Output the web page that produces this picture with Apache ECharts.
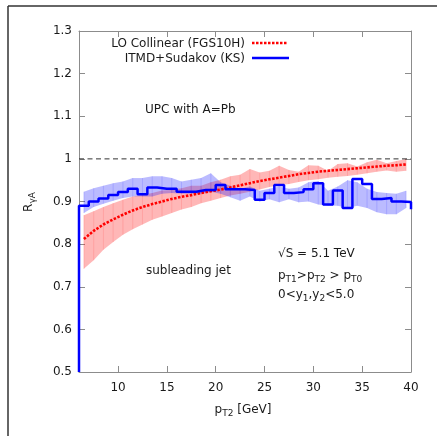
<!DOCTYPE html>
<html>
<head>
<meta charset="utf-8">
<script src="https://cdn.jsdelivr.net/npm/echarts@6/dist/echarts.min.js"></script>
<style>
  html, body { margin: 0; padding: 0; background: #fff; }
  #chart { width: 437px; height: 436px; }
</style>
</head>
<body>
<div id="chart"></div>
<script>
// axis ranges and ticks
const xMin = 6, xMax = 40, yMin = 0.5, yMax = 1.3;
const xTicks = [10, 15, 20, 25, 30, 35, 40];
const xTicksInner = [10, 15, 20, 25, 30, 35];
const refLevel = 1;

// ITMD+Sudakov (KS) histogram: left edges of 1 GeV bins and bin values
const ksBinLow = [6, 7, 8, 9, 10, 11, 12, 13, 14, 15, 16, 17, 18, 19, 20, 21, 22,
  23, 24, 25, 26, 27, 28, 29, 30, 31, 32, 33, 34, 35, 36, 37, 38, 39];
const ksVals = [0.890, 0.900, 0.907, 0.915, 0.922, 0.930, 0.917, 0.933, 0.930, 0.930,
  0.923, 0.923, 0.927, 0.927, 0.939, 0.929, 0.929, 0.927, 0.904, 0.920, 0.939, 0.920,
  0.922, 0.929, 0.943, 0.893, 0.926, 0.885, 0.953, 0.941, 0.906, 0.908, 0.900, 0.899];
const ksEndDrop = 0.882;

// bin centres shared by the curve and both bands
const binCenter = [6.5, 7.5, 8.5, 9.5, 10.5, 11.5, 12.5, 13.5, 14.5, 15.5, 16.5, 17.5,
  18.5, 19.5, 20.5, 21.5, 22.5, 23.5, 24.5, 25.5, 26.5, 27.5, 28.5, 29.5, 30.5, 31.5,
  32.5, 33.5, 34.5, 35.5, 36.5, 37.5, 38.5, 39.5];

// LO Collinear (FGS10H)
const loVals = [0.812, 0.831, 0.846, 0.858, 0.869, 0.879, 0.887, 0.894, 0.900, 0.906,
  0.911, 0.915, 0.920, 0.924, 0.928, 0.933, 0.938, 0.943, 0.948, 0.952, 0.956, 0.960,
  0.964, 0.967, 0.970, 0.972, 0.974, 0.976, 0.978, 0.980, 0.982, 0.984, 0.985, 0.987];
const loBandLow = [0.742, 0.762, 0.787, 0.805, 0.822, 0.835, 0.846, 0.857, 0.865, 0.873,
  0.881, 0.887, 0.896, 0.902, 0.908, 0.914, 0.918, 0.923, 0.928, 0.934, 0.938, 0.941,
  0.946, 0.950, 0.952, 0.956, 0.958, 0.960, 0.963, 0.966, 0.970, 0.973, 0.970, 0.972];
const loBandHigh = [0.868, 0.877, 0.887, 0.896, 0.904, 0.912, 0.916, 0.920, 0.926, 0.927,
  0.931, 0.937, 0.937, 0.945, 0.951, 0.959, 0.963, 0.976, 0.968, 0.972, 0.984, 0.974,
  0.970, 0.985, 0.984, 0.972, 0.988, 0.990, 0.982, 0.992, 0.998, 0.990, 0.995, 1.000];

// KS uncertainty band
const ksBandLow = [0.873, 0.887, 0.895, 0.902, 0.908, 0.912, 0.912, 0.912, 0.918, 0.920,
  0.918, 0.918, 0.918, 0.923, 0.918, 0.910, 0.902, 0.912, 0.900, 0.905, 0.898, 0.905,
  0.898, 0.900, 0.893, 0.890, 0.890, 0.885, 0.890, 0.885, 0.875, 0.870, 0.870, 0.885];
const ksBandHigh = [0.923, 0.931, 0.937, 0.943, 0.947, 0.955, 0.955, 0.959, 0.959, 0.955,
  0.947, 0.951, 0.955, 0.966, 0.945, 0.937, 0.930, 0.935, 0.925, 0.930, 0.935, 0.930,
  0.933, 0.945, 0.948, 0.925, 0.935, 0.950, 0.945, 0.930, 0.922, 0.920, 0.918, 0.925];

const FONT = 'DejaVu Sans';
const TXT = '#1a1a1a';
const AXIS = '#8c8c8c';

// step line points: start at the bottom, one point per bin edge, then the drop at the end
function ksStepData() {
  const pts = [[ksBinLow[0], yMin]];
  for (let i = 0; i < ksBinLow.length; i++) pts.push([ksBinLow[i], ksVals[i]]);
  pts.push([xMax, ksVals[ksVals.length - 1]]);
  pts.push([xMax, ksEndDrop]);
  return pts;
}

function bandData(lo, hi) {
  const out = [];
  for (let i = 0; i < binCenter.length - 1; i++) {
    out.push([binCenter[i], lo[i], hi[i], binCenter[i + 1], lo[i + 1], hi[i + 1]]);
  }
  return out;
}

function bandRender(fill, seam) {
  return function (params, api) {
    const a = api.coord([api.value(0), api.value(2)]);
    const b = api.coord([api.value(3), api.value(5)]);
    const c = api.coord([api.value(3), api.value(4)]);
    const d = api.coord([api.value(0), api.value(1)]);
    const children = [
      { type: 'polygon', shape: { points: [a, b, c, d] }, style: { fill: fill }, silent: true },
      { type: 'line', shape: { x1: d[0], y1: d[1], x2: a[0], y2: a[1] }, style: { stroke: seam, lineWidth: 1 }, silent: true }
    ];
    if (params.dataIndex === params.dataInsideLength - 1) {
      children.push({ type: 'line', shape: { x1: c[0], y1: c[1], x2: b[0], y2: b[1] }, style: { stroke: seam, lineWidth: 1 }, silent: true });
    }
    return { type: 'group', children: children };
  };
}

const chart = echarts.init(document.getElementById('chart'), null, { renderer: 'canvas' });

const subStyle = { fontSize: 9, fontFamily: FONT, fill: TXT, verticalAlign: 'bottom', padding: [0, 0, -2, 0] };

chart.setOption({
  animation: false,
  backgroundColor: '#fff',
  grid: { left: 79, top: 31, width: 332, height: 341 },
  xAxis: [
    {
      type: 'value', min: xMin, max: xMax, position: 'bottom',
      axisLine: { lineStyle: { color: AXIS, width: 1 } },
      axisTick: { inside: true, length: 6, lineStyle: { color: AXIS }, customValues: xTicksInner },
      axisLabel: { customValues: xTicks, color: TXT, fontFamily: FONT, fontSize: 12, margin: 10 },
      splitLine: { show: false }
    },
    {
      type: 'value', min: xMin, max: xMax, position: 'top',
      axisLine: { lineStyle: { color: AXIS, width: 1 } },
      axisTick: { inside: true, length: 6, lineStyle: { color: AXIS }, customValues: xTicksInner },
      axisLabel: { show: false },
      splitLine: { show: false }
    }
  ],
  yAxis: [
    {
      type: 'value', min: yMin, max: yMax, interval: 0.1, position: 'left',
      axisLine: { show: true, lineStyle: { color: AXIS, width: 1 } },
      axisTick: { show: true, inside: true, length: 6, lineStyle: { color: AXIS } },
      axisLabel: { color: TXT, fontFamily: FONT, fontSize: 12, margin: 7 },
      splitLine: { show: false }
    },
    {
      type: 'value', min: yMin, max: yMax, interval: 0.1, position: 'right',
      axisLine: { show: true, lineStyle: { color: AXIS, width: 1 } },
      axisTick: { show: true, inside: true, length: 6, lineStyle: { color: AXIS } },
      axisLabel: { show: false },
      splitLine: { show: false }
    }
  ],
  series: [
    {
      type: 'custom', name: 'LO band', renderItem: bandRender('rgba(255,30,30,0.32)', 'rgba(255,60,60,0.2)'),
      data: bandData(loBandLow, loBandHigh), encode: { x: [0, 3], y: [1, 2, 4, 5] }, z: 1, silent: true
    },
    {
      type: 'custom', name: 'KS band', renderItem: bandRender('rgba(30,30,255,0.3)', 'rgba(60,60,255,0.2)'),
      data: bandData(ksBandLow, ksBandHigh), encode: { x: [0, 3], y: [1, 2, 4, 5] }, z: 2, silent: true
    },
    {
      type: 'line', name: 'ref', data: [[xMin, refLevel], [xMax, refLevel]], symbol: 'none', z: 3,
      lineStyle: { color: '#333', width: 1, type: [5, 3.5] }, silent: true
    },
    {
      type: 'line', name: 'LO Collinear (FGS10H)', data: binCenter.map((x, i) => [x, loVals[i]]),
      symbol: 'none', z: 4, lineStyle: { color: '#ff0000', width: 2.6, type: [2.5, 1.5] }, silent: true
    },
    {
      type: 'line', name: 'ITMD+Sudakov (KS)', data: ksStepData(), step: 'end',
      symbol: 'none', z: 5, lineStyle: { color: '#0000ff', width: 2.5 }, silent: true
    }
  ],
  graphic: [
    // outer frame (top and left only)
    { type: 'line', shape: { x1: 8, y1: 6, x2: 437, y2: 6 }, style: { stroke: '#333', lineWidth: 1.5 }, silent: true },
    { type: 'line', shape: { x1: 8, y1: 6, x2: 8, y2: 436 }, style: { stroke: '#333', lineWidth: 1.5 }, silent: true },
    // legend
    { type: 'text', x: 245, y: 44, style: { text: 'LO Collinear (FGS10H)', fontFamily: FONT, fontSize: 12, fill: TXT, align: 'right', verticalAlign: 'middle' } },
    { type: 'line', shape: { x1: 252, y1: 43, x2: 288, y2: 43 }, style: { stroke: '#ff0000', lineWidth: 2.5, lineDash: [2.5, 1.5] } },
    { type: 'text', x: 245, y: 59, style: { text: 'ITMD+Sudakov (KS)', fontFamily: FONT, fontSize: 12, fill: TXT, align: 'right', verticalAlign: 'middle' } },
    { type: 'line', shape: { x1: 252, y1: 58, x2: 289, y2: 58 }, style: { stroke: '#0000ff', lineWidth: 2.5 } },
    // annotations
    { type: 'text', x: 145, y: 110, style: { text: 'UPC with A=Pb', fontFamily: FONT, fontSize: 12, fill: TXT, verticalAlign: 'middle' } },
    { type: 'text', x: 146, y: 271, style: { text: 'subleading jet', fontFamily: FONT, fontSize: 12, fill: TXT, verticalAlign: 'middle' } },
    { type: 'text', x: 278, y: 254, style: { text: '√S = 5.1 TeV', fontFamily: FONT, fontSize: 12, fill: TXT, verticalAlign: 'middle' } },
    {
      type: 'text', x: 278, y: 276, style: {
        text: 'p{s|T1}>p{s|T2} > p{s|T0}', fontFamily: FONT, fontSize: 12, fill: TXT, verticalAlign: 'middle',
        rich: { s: subStyle }
      }
    },
    {
      type: 'text', x: 278, y: 295, style: {
        text: '0<y{s|1},y{s|2}<5.0', fontFamily: FONT, fontSize: 12, fill: TXT, verticalAlign: 'middle',
        rich: { s: subStyle }
      }
    },
    // axis titles
    {
      type: 'text', x: 243, y: 410, style: {
        text: 'p{s|T2} [GeV]', fontFamily: FONT, fontSize: 12, fill: TXT, align: 'center', verticalAlign: 'middle',
        rich: { s: subStyle }
      }
    },
    {
      type: 'text', x: 29, y: 202, rotation: Math.PI / 2, style: {
        text: 'R{s|γA}', fontFamily: FONT, fontSize: 12, fill: TXT, align: 'center', verticalAlign: 'middle',
        rich: { s: subStyle }
      }
    }
  ]
});
</script>
</body>
</html>
